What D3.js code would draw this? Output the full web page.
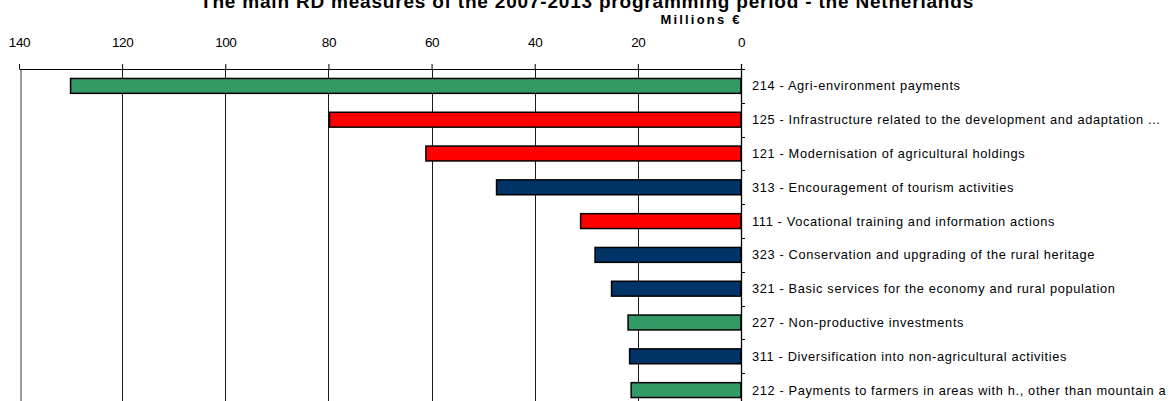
<!DOCTYPE html>
<html>
<head>
<meta charset="utf-8">
<script src="https://cdn.jsdelivr.net/npm/d3@7"></script>
<style>
  html, body { margin: 0; padding: 0; background: #fff; }
  svg { display: block; font-family: "Liberation Sans", Arial, sans-serif; }
</style>
</head>
<body>
<svg id="chart" width="1170" height="401"></svg>
<script>
const categories = [
  "214 - Agri-environment payments",
  "125 - Infrastructure related to the development and adaptation ...",
  "121 - Modernisation of agricultural holdings",
  "313 - Encouragement of tourism activities",
  "111 - Vocational training and information actions",
  "323 - Conservation and upgrading of the rural heritage",
  "321 - Basic services for the economy and rural population",
  "227 - Non-productive investments",
  "311 - Diversification into non-agricultural activities",
  "212 - Payments to farmers in areas with h., other than mountain a"
];
const values = [130.0, 79.8, 61.1, 47.4, 31.1, 28.3, 25.1, 21.9, 21.6, 21.3];
const axisGroup = ["2", "1", "1", "3", "1", "3", "3", "2", "3", "2"];
const tickValues = [0, 20, 40, 60, 80, 100, 120, 140];
const titleText = "The main RD measures of the 2007-2013 programming period - the Netherlands";
const unitText = "Millions €";

const groupColor = { "1": "#FF0000", "2": "#339966", "3": "#003366" };

const svg = d3.select("#chart");
const plot = { left: 19, right: 741, top: 69, bottom: 407 };

const x = d3.scaleLinear().domain([0, 140]).range([plot.right, plot.left]);
const y = d3.scaleBand().domain(categories).range([plot.top, plot.bottom]).paddingInner(0.56).paddingOuter(0.28);
const yb = d3.scaleBand().domain(categories).range([plot.top, plot.bottom]);

// plot-area left border
svg.append("line")
  .attr("x1", x(140) + 2).attr("x2", x(140) + 2)
  .attr("y1", plot.top).attr("y2", 401)
  .attr("stroke", "#9a9a9a").attr("stroke-width", 2);

// gridlines
svg.append("g").selectAll("line")
  .data(tickValues.filter(v => v > 0 && v < 140))
  .join("line")
  .attr("x1", d => Math.round(x(d)) + 0.5).attr("x2", d => Math.round(x(d)) + 0.5)
  .attr("y1", plot.top).attr("y2", 401)
  .attr("stroke", "#1a1a1a").attr("stroke-width", 1);

// bars
svg.append("g").selectAll("rect")
  .data(categories)
  .join("rect")
  .attr("x", (d, i) => x(values[i]))
  .attr("y", d => y(d))
  .attr("width", (d, i) => x(0) - x(values[i]))
  .attr("height", y.bandwidth())
  .attr("fill", (d, i) => groupColor[axisGroup[i]])
  .attr("stroke", "#000").attr("stroke-width", 1.5);

// top value axis
const xAxis = d3.axisTop(x).tickValues(tickValues).tickSize(5).tickPadding(17).tickSizeOuter(0);
const gx = svg.append("g").attr("transform", `translate(0,${plot.top})`).call(xAxis);
gx.select(".domain").attr("stroke", "#000").attr("stroke-width", 1.2);
gx.selectAll(".tick line").attr("stroke", "#000");
gx.selectAll(".tick text")
  .attr("font-size", 13.5).attr("fill", "#000")
  .attr("font-family", "'Liberation Sans', Arial, sans-serif")
  .attr("letter-spacing", -0.4);

// right category axis
svg.append("line")
  .attr("x1", plot.right + 0.5).attr("x2", plot.right + 0.5)
  .attr("y1", plot.top - 5).attr("y2", 401)
  .attr("stroke", "#000").attr("stroke-width", 1.3);
svg.append("g").selectAll("line")
  .data(categories)
  .join("line")
  .attr("x1", plot.right).attr("x2", plot.right + 4)
  .attr("y1", d => Math.round(yb(d)) + 0.5).attr("y2", d => Math.round(yb(d)) + 0.5)
  .attr("stroke", "#000").attr("stroke-width", 1);
svg.append("g").selectAll("text")
  .data(categories)
  .join("text")
  .attr("x", 752)
  .attr("y", d => yb(d) + yb.bandwidth() / 2)
  .attr("dy", "0.35em")
  .attr("font-size", 12.8)
  .attr("letter-spacing", 0.65)
  .attr("fill", "#000")
  .text(d => d);

// title
svg.append("text")
  .attr("x", 587).attr("y", 8)
  .attr("text-anchor", "middle")
  .attr("font-size", 19).attr("font-weight", "bold")
  .attr("letter-spacing", 0.8)
  .attr("fill", "#000")
  .text(titleText);

svg.append("text")
  .attr("x", 701).attr("y", 24)
  .attr("text-anchor", "middle")
  .attr("font-size", 13).attr("font-weight", "bold")
  .attr("letter-spacing", 2.2)
  .attr("fill", "#000")
  .text(unitText);
</script>
</body>
</html>
